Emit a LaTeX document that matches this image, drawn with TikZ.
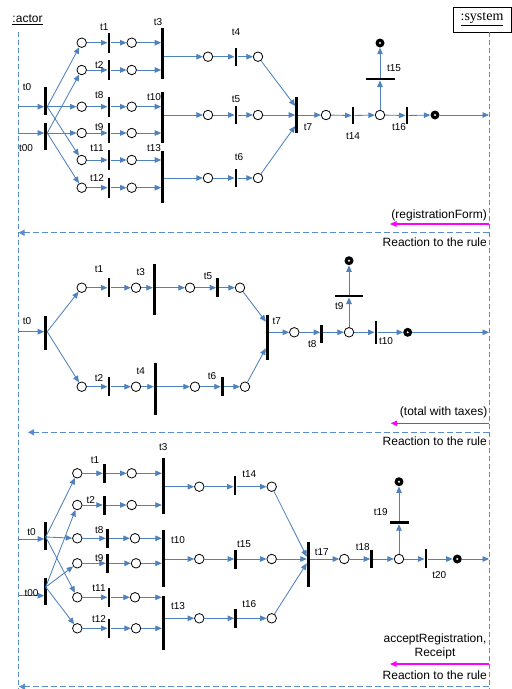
\documentclass[tikz,border=0pt]{standalone}
\usepackage{fontspec}
\setmainfont{Liberation Sans}
\newfontfamily\serifa{Liberation Serif}
\usetikzlibrary{arrows.meta}
\definecolor{arcblue}{RGB}{79,129,189}
\definecolor{dashblue}{RGB}{91,139,208}
\definecolor{mag}{RGB}{255,0,255}
\begin{document}
\begin{tikzpicture}[x=1pt,y=-1pt,
 pl/.style={circle,draw=black,line width=0.8pt,fill=white,minimum size=9.5pt,inner sep=0pt},
 tok/.style={circle,fill=black,minimum size=9pt,inner sep=0pt,path picture={\fill[white] (path picture bounding box.center) circle (1.1pt);}},
 vb/.style={fill=black,minimum width=2.6pt,inner sep=0pt,minimum height=#1},
 hb/.style={fill=black,minimum height=2.6pt,inner sep=0pt,minimum width=#1},
 arc/.style={draw=arcblue,line width=0.85pt,-{Triangle[length=6.5pt,width=5.5pt]}},
 lbl/.style={font=\fontsize{10}{11}\selectfont,inner sep=0pt},
 msg/.style={font=\fontsize{12}{13.5}\selectfont,inner sep=0pt},
 life/.style={draw=dashblue,line width=0.9pt,dash pattern=on 5pt off 3pt},
 ret/.style={draw=dashblue,line width=0.9pt,dash pattern=on 6pt off 3pt,-{Triangle[length=6pt,width=6pt]}},
 mg/.style={draw=mag,line width=1.1pt,-{Triangle[length=6.5pt,width=5.5pt]}}
]
\useasboundingbox (0,0) rectangle (512,689);
% ---------- header and lifelines
\node[font=\fontsize{12}{13}\selectfont,inner sep=0pt] (actor) at (27.5,20) {\underline{:actor}};
\node[draw=black,line width=0.8pt,minimum width=58pt,minimum height=25pt,inner sep=0pt,font=\serifa\fontsize{14}{15}\selectfont] (system) at (482,19.5) {\underline{:system}};
\coordinate (Lt) at (18,32); \coordinate (Lb) at (18,689);
\coordinate (Rt) at (489,32); \coordinate (Rb) at (489,689);
\draw[life] (Lt) -- (Lb);
\draw[life] (Rt) -- (Rb);

% ================= SECTION 1
\node[vb=28pt] (At0) at (45.7,101) {};
\node[vb=27pt] (At00) at (45.7,136.5) {};
\coordinate (Ai0) at (18,106.7);
\coordinate (Ai00) at (18,133);
\node[vb=51pt] (At3) at (162.7,53.5) {};
\node[vb=51pt] (At10) at (162.7,117.5) {};
\node[vb=52pt] (At13) at (162.7,177) {};
\foreach \n/\y in {1/42.7,2/70,3/106.7,4/133,5/160,6/187.7}{
  \node[pl] (Aa\n) at (81.7,\y) {};
  \node[vb=20pt] (Ab\n) at (109,\y) {};
  \node[pl] (Ac\n) at (131.7,\y) {};
  \draw[arc] (Aa\n) -- (Ab\n.west);
  \draw[arc] (Ab\n) -- (Ac\n);
}
\draw[arc] (Ai0) -- (Ai0 -| At0.west);
\draw[arc] (Ai00) -- (Ai00 -| At00.west);
\draw[arc] (Ai0 -| At0.east) -- (Aa1);
\draw[arc] (Ai0 -| At0.east) -- (Aa3);
\draw[arc] (Ai0 -| At0.east) -- (Aa5);
\draw[arc] (Ai00 -| At00.east) -- (Aa2);
\draw[arc] (Ai00 -| At00.east) -- (Aa4);
\draw[arc] (Ai00 -| At00.east) -- (Aa6);
\draw[arc] (Ac1) -- (Ac1 -| At3.west);
\draw[arc] (Ac2) -- (Ac2 -| At3.west);
\draw[arc] (Ac3) -- (Ac3 -| At10.west);
\draw[arc] (Ac4) -- (Ac4 -| At10.west);
\draw[arc] (Ac5) -- (Ac5 -| At13.west);
\draw[arc] (Ac6) -- (Ac6 -| At13.west);
\node[pl] (Ad1) at (208,56.7) {}; \node[vb=18pt] (At4) at (236,56.7) {}; \node[pl] (Ae1) at (258,56.7) {};
\node[pl] (Ad2) at (208,115) {}; \node[vb=18pt] (At5) at (236,115) {}; \node[pl] (Ae2) at (258,115) {};
\node[pl] (Ad3) at (208,178) {}; \node[vb=18pt] (At6) at (236,178) {}; \node[pl] (Ae3) at (258,178) {};
\draw[arc] (Ad1 -| At3.east) -- (Ad1); \draw[arc] (Ad1) -- (At4.west); \draw[arc] (At4) -- (Ae1);
\draw[arc] (Ad2 -| At10.east) -- (Ad2); \draw[arc] (Ad2) -- (At5.west); \draw[arc] (At5) -- (Ae2);
\draw[arc] (Ad3 -| At13.east) -- (Ad3); \draw[arc] (Ad3) -- (At6.west); \draw[arc] (At6) -- (Ae3);
\node[vb=36pt] (At7) at (296.7,115) {};
\draw[arc] (Ae1) -- ([yshift=9pt]At7.west);
\draw[arc] (Ae2) -- (At7.west);
\draw[arc] (Ae3) -- ([yshift=-11pt]At7.west);
\node[pl] (Af1) at (326,115) {};
\node[vb=17pt] (At14) at (353,115.5) {};
\node[pl] (Ag1) at (380,115) {};
\node[hb=29pt] (At15) at (380,79) {};
\node[tok] (Ak1) at (380,43) {};
\node[vb=17pt] (At16) at (407,115.5) {};
\node[tok] (Ak2) at (435,115) {};
\coordinate (Ao) at (489,115);
\draw[arc] (At7) -- (Af1);
\draw[arc] (Af1) -- (At14.west);
\draw[arc] (At14) -- (Ag1);
\draw[arc] (Ag1) -- (At15.south);
\draw[arc] (At15) -- (Ak1);
\draw[arc] (Ag1) -- (At16.west);
\draw[arc] (At16) -- (Ak2);
\draw[arc] (Ak2) -- (Ao);
% labels
\node[lbl] at (27,87.3) {t0};
\node[lbl] at (26,148.3) {t00};
\node[lbl] at (104.3,26.7) {t1};
\node[lbl] at (99.3,65) {t2};
\node[lbl] at (99.3,95) {t8};
\node[lbl] at (99.3,127) {t9};
\node[lbl] at (97,148.3) {t11};
\node[lbl] at (97,178.3) {t12};
\node[lbl] at (158,22) {t3};
\node[lbl] at (154,97) {t10};
\node[lbl] at (154,148) {t13};
\node[lbl] at (236,32) {t4};
\node[lbl] at (236,99) {t5};
\node[lbl] at (239,157) {t6};
\node[lbl] at (308,127) {t7};
\node[lbl] at (353,136) {t14};
\node[lbl] at (394,68) {t15};
\node[lbl] at (399,127) {t16};
% messages
\node[msg,anchor=east] (Am) at (487,215) {(registrationForm)};
\coordinate (Am1) at (489,224); \coordinate (Am2) at (390,224);
\draw[mg] (Am1) -- (Am2);
\coordinate (Ar1) at (489,232.7); \coordinate (Ar2) at (18.5,232.7);
\draw[ret] (Ar1) -- (Ar2);
\node[msg,anchor=east] (Arr) at (487,242) {Reaction to the rule};

% ================= SECTION 2
\coordinate (Bi0) at (18,331.7);
\node[vb=34pt] (Bt0) at (45.7,333) {};
\node[pl] (Ba1) at (81.7,287.7) {};
\node[pl] (Ba2) at (81.7,386.7) {};
\node[vb=19pt] (Bt1) at (109,287.7) {};
\node[pl] (Bc1) at (136,287.7) {};
\node[vb=51pt] (Bt3) at (154.3,289.5) {};
\node[pl] (Bd1) at (190,287.7) {};
\node[vb=19pt] (Bt5) at (217.7,287.7) {};
\node[pl] (Be1) at (240,287.7) {};
\node[vb=19pt] (Bt2) at (109,386.7) {};
\node[pl] (Bc2) at (136,386.7) {};
\node[vb=52pt] (Bt4) at (155.3,389) {};
\node[pl] (Bd2) at (195,386.7) {};
\node[vb=19pt] (Bt6) at (222.3,386.7) {};
\node[pl] (Be2) at (245,386.7) {};
\node[vb=45pt] (Bt7) at (267.3,337.5) {};
\node[pl] (Bf1) at (294.3,332.3) {};
\node[vb=18pt] (Bt8) at (321.7,334) {};
\node[pl] (Bg1) at (349,332.3) {};
\node[hb=28pt] (Bt9) at (349,296) {};
\node[tok] (Bk1) at (349,260.7) {};
\node[vb=23pt] (Bt10) at (376,332.5) {};
\node[tok] (Bk2) at (407.7,332.3) {};
\coordinate (Bo) at (489,332.3);
\draw[arc] (Bi0) -- (Bi0 -| Bt0.west);
\draw[arc] (Bi0 -| Bt0.east) -- (Ba1);
\draw[arc] (Bi0 -| Bt0.east) -- (Ba2);
\draw[arc] (Ba1) -- (Bt1.west); \draw[arc] (Bt1) -- (Bc1);
\draw[arc] (Bc1) -- (Bc1 -| Bt3.west); \draw[arc] (Bc1 -| Bt3.east) -- (Bd1);
\draw[arc] (Bd1) -- (Bt5.west); \draw[arc] (Bt5) -- (Be1);
\draw[arc] (Ba2) -- (Bt2.west); \draw[arc] (Bt2) -- (Bc2);
\draw[arc] (Bc2) -- (Bc2 -| Bt4.west); \draw[arc] (Bc2 -| Bt4.east) -- (Bd2);
\draw[arc] (Bd2) -- (Bt6.west); \draw[arc] (Bt6) -- (Be2);
\draw[arc] (Be1) -- ([yshift=15.8pt]Bt7.west);
\draw[arc] (Be2) -- ([yshift=-10.8pt]Bt7.west);
\draw[arc] (Bf1 -| Bt7.east) -- (Bf1);
\draw[arc] (Bf1) -- (Bf1 -| Bt8.west);
\draw[arc] (Bf1 -| Bt8.east) -- (Bg1);
\draw[arc] (Bg1) -- (Bt9.south);
\draw[arc] (Bt9) -- (Bk1);
\draw[arc] (Bg1) -- (Bg1 -| Bt10.west);
\draw[arc] (Bg1 -| Bt10.east) -- (Bk2);
\draw[arc] (Bk2) -- (Bo);
\node[lbl] at (27,320.7) {t0};
\node[lbl] at (99,269) {t1};
\node[lbl] at (140.7,271.7) {t3};
\node[lbl] at (208,275.7) {t5};
\node[lbl] at (99,378) {t2};
\node[lbl] at (140.7,370.7) {t4};
\node[lbl] at (212,375.7) {t6};
\node[lbl] at (276.7,320.7) {t7};
\node[lbl] at (312.3,344) {t8};
\node[lbl] at (339.3,306) {t9};
\node[lbl] at (386,341) {t10};
\node[msg,anchor=east] (Bm) at (487.5,412.3) {(total with taxes)};
\coordinate (Bm1) at (489,423.3); \coordinate (Bm2) at (390.7,423.3);
\draw[mg] (Bm1) -- (Bm2);
\coordinate (Br1) at (489,432.3); \coordinate (Br2) at (28,432.3);
\draw[ret] (Br1) -- (Br2);
\node[msg,anchor=east] (Brr) at (487,441) {Reaction to the rule};

% ================= SECTION 3
\coordinate (Ci0) at (18,539);
\coordinate (Ci00) at (18,595.7);
\node[vb=28.3pt] (Ct0) at (45.7,535.8) {};
\node[vb=26.7pt] (Ct00) at (45.7,591.7) {};
\node[vb=55.7pt] (Ct3) at (163.3,486.2) {};
\node[vb=56.7pt] (Ct10) at (163.3,558.3) {};
\node[vb=54pt] (Ct13) at (163.3,623) {};
\foreach \n/\y/\xb/\xc in {1/473.3/104.3/131.7,2/505/104.3/131.7,3/538.3/107.3/135,4/563.3/107.3/136,5/597.3/109/135,6/628.3/109/136}{
  \node[pl] (Ca\n) at (77.3,\y) {};
  \node[vb=19pt] (Cb\n) at (\xb,\y) {};
  \node[pl] (Cc\n) at (\xc,\y) {};
  \draw[arc] (Ca\n) -- (Cb\n.west);
  \draw[arc] (Cb\n) -- (Cc\n);
}
\coordinate (Cf0) at (45.7,537);
\coordinate (Cf00) at (45.7,587);
\draw[arc] (Ci0) -- (Ci0 -| Ct0.west);
\draw[arc] (Ci00) -- (Ci00 -| Ct00.west);
\draw[arc] (Cf0) -- (Ca1);
\draw[arc] (Cf0) -- (Ca3);
\draw[arc] (Cf0) -- (Ca5);
\draw[arc] (Cf00) -- (Ca2);
\draw[arc] (Cf00) -- (Ca4);
\draw[arc] (Cf00) -- (Ca6);
\draw[arc] (Cc1) -- (Cc1 -| Ct3.west);
\draw[arc] (Cc2) -- (Cc2 -| Ct3.west);
\draw[arc] (Cc3) -- (Cc3 -| Ct10.west);
\draw[arc] (Cc4) -- (Cc4 -| Ct10.west);
\draw[arc] (Cc5) -- (Cc5 -| Ct13.west);
\draw[arc] (Cc6) -- (Cc6 -| Ct13.west);
\node[pl] (Cd1) at (199.3,486.7) {}; \node[vb=19pt] (Ct14) at (235,485.5) {}; \node[pl] (Ce1) at (271.7,486.7) {};
\node[pl] (Cd2) at (199.3,559) {}; \node[vb=19pt] (Ct15) at (235.7,559) {}; \node[pl] (Ce2) at (271.7,559) {};
\node[pl] (Cd3) at (199.3,618.3) {}; \node[vb=19pt] (Ct16) at (235.7,618.3) {}; \node[pl] (Ce3) at (271.7,618.3) {};
\draw[arc] (Cd1 -| Ct3.east) -- (Cd1); \draw[arc] (Cd1) -- (Cd1 -| Ct14.west); \draw[arc] (Cd1 -| Ct14.east) -- (Ce1);
\draw[arc] (Cd2 -| Ct10.east) -- (Cd2); \draw[arc] (Cd2) -- (Ct15.west); \draw[arc] (Ct15) -- (Ce2);
\draw[arc] (Cd3 -| Ct13.east) -- (Cd3); \draw[arc] (Cd3) -- (Ct16.west); \draw[arc] (Ct16) -- (Ce3);
\node[vb=45pt] (Ct17) at (308.3,564.2) {};
\draw[arc] (Ce1) -- ([yshift=7.5pt]Ct17.west);
\draw[arc] (Ce2) -- ([yshift=5.2pt]Ct17.west);
\draw[arc] (Ce3) -- ([yshift=0.9pt]Ct17.west);
\node[pl] (Cf1) at (344.3,559) {};
\node[vb=18.3pt] (Ct18) at (371.7,559) {};
\node[pl] (Cg1) at (399,559) {};
\node[hb=19pt] (Ct19) at (399,522.7) {};
\node[tok] (Ck1) at (399,481.7) {};
\node[vb=19pt] (Ct20) at (426,558.8) {};
\node[tok] (Ck2) at (457.3,559) {};
\coordinate (Co) at (489,559);
\draw[arc] (Cf1 -| Ct17.east) -- (Cf1);
\draw[arc] (Cf1) -- (Ct18.west);
\draw[arc] (Ct18) -- (Cg1);
\draw[arc] (Cg1) -- (Ct19.south);
\draw[arc] (Ct19) -- (Ck1);
\draw[arc] (Cg1) -- (Cg1 -| Ct20.west);
\draw[arc] (Cg1 -| Ct20.east) -- (Ck2);
\draw[arc] (Ck2) -- (Co);
\node[lbl] at (31.5,531.7) {t0};
\node[lbl] at (31.5,592.7) {t00};
\node[lbl] at (95,460) {t1};
\node[lbl] at (90.7,500) {t2};
\node[lbl] at (99.3,530) {t8};
\node[lbl] at (99.3,558.3) {t9};
\node[lbl] at (99,588.3) {t11};
\node[lbl] at (99,619.3) {t12};
\node[lbl] at (163.3,447.3) {t3};
\node[lbl] at (178,540) {t10};
\node[lbl] at (178,605.7) {t13};
\node[lbl] at (249.3,474.3) {t14};
\node[lbl] at (244,544) {t15};
\node[lbl] at (249.3,604.3) {t16};
\node[lbl] at (321.7,551.7) {t17};
\node[lbl] at (362.7,547.3) {t18};
\node[lbl] at (380.7,511.7) {t19};
\node[lbl] at (439.3,575) {t20};
\node[msg,align=center] (Cm) at (435,646.5) {acceptRegistration,\\Receipt};
\coordinate (Cm1) at (489,664); \coordinate (Cm2) at (390,664);
\draw[mg] (Cm1) -- (Cm2);
\node[msg,anchor=east] (Crr) at (487,675.7) {Reaction to the rule};
\coordinate (Cr1) at (489,686.7); \coordinate (Cr2) at (19,686.7);
\draw[ret] (Cr1) -- (Cr2);
\end{tikzpicture}
\end{document}
